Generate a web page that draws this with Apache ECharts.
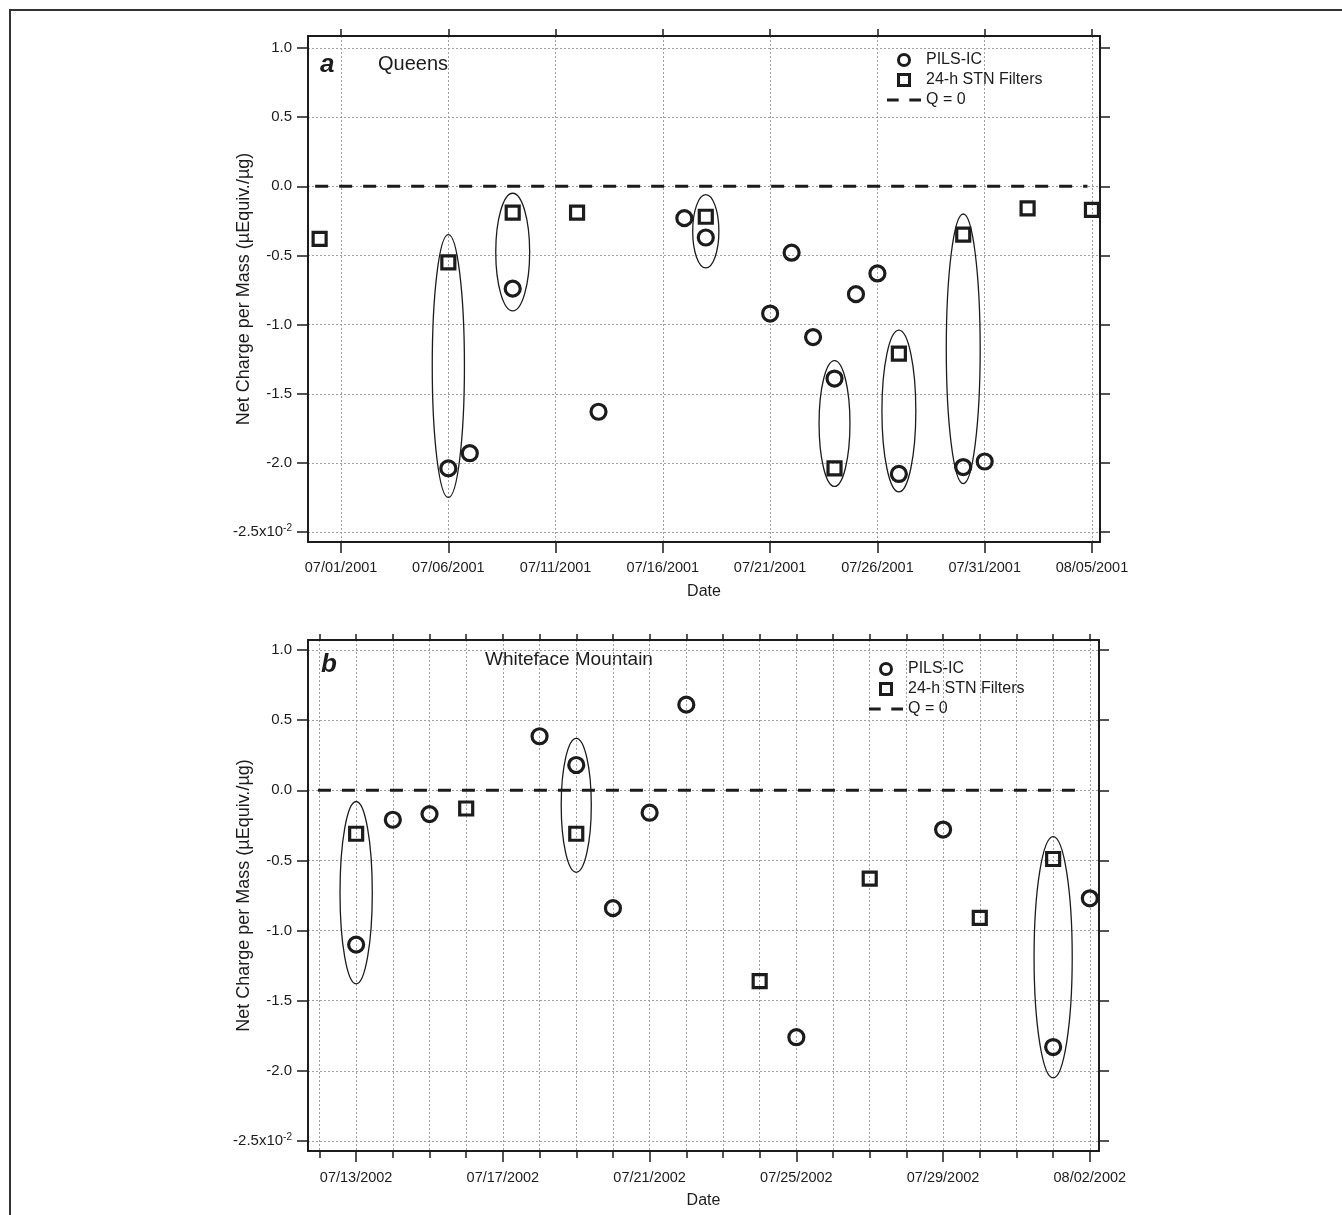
<!DOCTYPE html>
<html>
<head>
<meta charset="utf-8">
<title>Net Charge per Mass - Queens / Whiteface Mountain</title>
<script src="https://cdn.jsdelivr.net/npm/echarts@6/dist/echarts.min.js"></script>
<style>
  html, body { margin: 0; padding: 0; background: #fff; }
  #chart { width: 1342px; height: 1215px; }
</style>
</head>
<body>
<div id="chart"></div>
<script>
'use strict';

// ---- panel a : Queens, summer 2001 ----
var queensPilsDates = ['2001/07/06', '2001/07/07', '2001/07/09', '2001/07/13', '2001/07/17', '2001/07/18',
  '2001/07/21', '2001/07/22', '2001/07/23', '2001/07/24', '2001/07/25', '2001/07/26', '2001/07/27',
  '2001/07/30', '2001/07/31'];
var queensPilsValues = [-2.04, -1.93, -0.74, -1.63, -0.23, -0.37, -0.92, -0.48, -1.09, -1.39, -0.78, -0.63, -2.08,
  -2.03, -1.99];
var queensStnDates = ['2001/06/30', '2001/07/06', '2001/07/09', '2001/07/12', '2001/07/18', '2001/07/24',
  '2001/07/27', '2001/07/30', '2001/08/02', '2001/08/05'];
var queensStnValues = [-0.38, -0.55, -0.19, -0.19, -0.22, -2.04, -1.21, -0.35, -0.16, -0.17];
var queensZeroDates = ['2001/06/29 19:00', '2001/08/04 19:00'];
// ringed pairs: date, top, bottom, half width (days)
var queensRingDates = ['2001/07/06', '2001/07/09', '2001/07/18', '2001/07/24', '2001/07/27', '2001/07/30'];
var queensRingTops = [-0.35, -0.05, -0.06, -1.26, -1.04, -0.20];
var queensRingBottoms = [-2.25, -0.90, -0.59, -2.17, -2.21, -2.15];
var queensRingHalfDays = [0.75, 0.79, 0.61, 0.72, 0.79, 0.79];
var queensTicks = ['2001/07/01', '2001/07/06', '2001/07/11', '2001/07/16', '2001/07/21', '2001/07/26',
  '2001/07/31', '2001/08/05'];
var queensRange = ['2001/06/29 11:00', '2001/08/05 09:00'];

// ---- panel b : Whiteface Mountain, summer 2002 ----
var wfPilsDates = ['2002/07/13', '2002/07/14', '2002/07/15', '2002/07/18', '2002/07/19', '2002/07/20',
  '2002/07/21', '2002/07/22', '2002/07/25', '2002/07/29', '2002/08/01', '2002/08/02'];
var wfPilsValues = [-1.10, -0.21, -0.17, 0.385, 0.18, -0.84, -0.16, 0.61, -1.76, -0.28, -1.83, -0.77];
var wfStnDates = ['2002/07/13', '2002/07/16', '2002/07/19', '2002/07/24', '2002/07/27', '2002/07/30',
  '2002/08/01'];
var wfStnValues = [-0.31, -0.13, -0.31, -1.36, -0.63, -0.91, -0.49];
var wfZeroDates = ['2002/07/11 23:00', '2002/08/01 15:30'];
var wfRingDates = ['2002/07/13', '2002/07/19', '2002/08/01'];
var wfRingTops = [-0.08, 0.37, -0.33];
var wfRingBottoms = [-1.38, -0.585, -2.05];
var wfRingHalfDays = [0.44, 0.41, 0.52];
var wfLabelTicks = ['2002/07/13', '2002/07/17', '2002/07/21', '2002/07/25', '2002/07/29', '2002/08/02'];
var wfRange = ['2002/07/11 16:30', '2002/08/02 06:00'];

var yTicks = [-2.5, -2, -1.5, -1, -0.5, 0, 0.5, 1];

var DAY = 24 * 3600 * 1000;
var FONT = '"Liberation Sans", Arial, sans-serif';
var INK = '#1c1c1c';

function t(s) { return new Date(s).getTime(); }
function pairs(dates, vals) {
  var out = [];
  for (var i = 0; i < dates.length; i++) out.push([t(dates[i]), vals[i]]);
  return out;
}
function rings(dates, tops, bots, half) {
  var out = [];
  for (var i = 0; i < dates.length; i++) out.push([t(dates[i]), tops[i], bots[i], half[i]]);
  return out;
}

// daily ticks for panel b
var wfDayTicks = [];
for (var d = t('2002/07/12'); d <= t('2002/08/02'); d += DAY) wfDayTicks.push(d);

function dateLabel(v) {
  var dt = new Date(v);
  function p(n) { return (n < 10 ? '0' : '') + n; }
  return p(dt.getMonth() + 1) + '/' + p(dt.getDate()) + '/' + dt.getFullYear();
}
function yLabel(v) {
  if (Math.abs(v + 2.5) < 1e-6) return '{b|-2.5x10}{s|-2}';
  return '{b|' + v.toFixed(1) + '}';
}

var gridLine = { show: true, lineStyle: { color: '#a0a0a0', width: 1, type: [2, 2] } };
var axisLine = { show: true, onZero: false, lineStyle: { color: INK, width: 2 } };
var tickStyle = { color: INK, width: 1.5 };

function leftAxis(g, range) {
  return {
    type: 'value', gridIndex: g, position: 'left', min: range[0], max: range[1],
    name: 'Net Charge per Mass (\u00b5Equiv./\u00b5g)', nameLocation: 'middle', nameGap: 55,
    nameMoveOverlap: false,
    nameTextStyle: { fontFamily: FONT, fontSize: 18, color: INK },
    axisLine: axisLine,
    axisTick: { show: true, length: 11, customValues: yTicks, lineStyle: tickStyle },
    axisLabel: {
      customValues: yTicks, formatter: yLabel, margin: 16,
      rich: {
        b: { fontFamily: FONT, fontSize: 15, color: INK },
        s: { fontFamily: FONT, fontSize: 10, color: INK, verticalAlign: 'top', padding: [0, 0, 7, 0] }
      }
    },
    splitLine: gridLine
  };
}
function rightAxis(g, range) {
  return {
    type: 'value', gridIndex: g, position: 'right', min: range[0], max: range[1],
    axisLine: axisLine,
    axisTick: { show: true, length: 10, customValues: yTicks, lineStyle: tickStyle },
    axisLabel: { show: false },
    splitLine: { show: false }
  };
}
function dateAxis(g, pos, range, ticks, tickLen, opts) {
  var ax = {
    type: 'value', gridIndex: g, position: pos, min: range[0], max: range[1],
    axisLine: axisLine,
    axisTick: { show: true, length: tickLen, customValues: ticks, lineStyle: tickStyle },
    axisLabel: { show: false },
    splitLine: { show: false }
  };
  for (var k in opts) ax[k] = opts[k];
  return ax;
}

function ellipseItem(params, api) {
  var top = api.coord([api.value(0), api.value(1)]);
  var bot = api.coord([api.value(0), api.value(2)]);
  var side = api.coord([api.value(0) + api.value(3) * DAY, api.value(1)]);
  return {
    type: 'ellipse',
    shape: { cx: top[0], cy: (top[1] + bot[1]) / 2, rx: side[0] - top[0], ry: (bot[1] - top[1]) / 2 },
    style: { fill: 'none', stroke: INK, lineWidth: 1.3 }
  };
}

function panelSeries(xi, yi, pils, stn, zero, ringData) {
  return [
    {
      name: 'Q = 0', type: 'line', xAxisIndex: xi, yAxisIndex: yi, symbol: 'none', showSymbol: false,
      data: [[t(zero[0]), 0], [t(zero[1]), 0]], itemStyle: { color: INK },
      lineStyle: { color: INK, width: 3, type: [13, 11] }, z: 3
    },
    {
      name: 'ring' + xi, type: 'custom', xAxisIndex: xi, yAxisIndex: yi, renderItem: ellipseItem,
      data: ringData, encode: { x: 0, y: [1, 2] }, z: 4, silent: true
    },
    {
      name: 'PILS-IC', type: 'scatter', xAxisIndex: xi, yAxisIndex: yi, symbol: 'circle', symbolSize: 15,
      data: pils, itemStyle: { color: 'rgba(0,0,0,0)', borderColor: INK, borderWidth: 3.2, opacity: 1 }, z: 5
    },
    {
      name: '24-h STN Filters', type: 'scatter', xAxisIndex: xi, yAxisIndex: yi, symbol: 'rect', symbolSize: 13,
      data: stn, itemStyle: { color: 'rgba(0,0,0,0)', borderColor: INK, borderWidth: 3.2, opacity: 1 }, z: 5
    }
  ];
}

function legendAt(left, top) {
  return {
    left: left, top: top, orient: 'vertical', padding: 0, itemWidth: 34, itemHeight: 11, itemGap: 4,
    symbolKeepAspect: true,
    data: [
      { name: 'PILS-IC', icon: 'circle', itemStyle: { color: 'rgba(0,0,0,0)', borderColor: INK, borderWidth: 3 } },
      { name: '24-h STN Filters', icon: 'path://M0,0H10V10H0Z',
        itemStyle: { color: 'rgba(0,0,0,0)', borderColor: INK, borderWidth: 3 } },
      { name: 'Q = 0', icon: 'path://M0,0H11V3H0ZM21,0H32V3H21Z',
        itemStyle: { color: INK, borderWidth: 0 } }
    ],
    textStyle: { fontFamily: FONT, fontSize: 16, color: INK, lineHeight: 16 },
    selectedMode: false
  };
}

var chart = echarts.init(document.getElementById('chart'));
var qr = [t(queensRange[0]), t(queensRange[1])];
var wr = [t(wfRange[0]), t(wfRange[1])];
var qTicks = queensTicks.map(t);
var wTicks = wfLabelTicks.map(t);
var nameStyle = { fontFamily: FONT, fontSize: 16, color: INK };

var option = {
  backgroundColor: '#fff',
  animation: false,
  grid: [
    { left: 308, top: 36, width: 792, height: 506 },
    { left: 308, top: 640, width: 791, height: 511 }
  ],
  xAxis: [
    dateAxis(0, 'bottom', qr, qTicks, 11, {
      name: 'Date', nameLocation: 'middle', nameGap: 42, nameTextStyle: nameStyle,
      axisLabel: { customValues: qTicks, formatter: dateLabel, margin: 18,
        fontFamily: FONT, fontSize: 14.5, color: INK },
      splitLine: gridLine
    }),
    dateAxis(0, 'top', qr, qTicks, 7, {}),
    dateAxis(1, 'bottom', wr, wTicks, 11, {
      name: 'Date', nameLocation: 'middle', nameGap: 42, nameTextStyle: nameStyle,
      axisLabel: { customValues: wTicks, formatter: dateLabel, margin: 19,
        fontFamily: FONT, fontSize: 14.5, color: INK }
    }),
    dateAxis(1, 'bottom', wr, wfDayTicks, 7, { splitLine: gridLine }),
    dateAxis(1, 'top', wr, wfDayTicks, 6, {})
  ],
  yAxis: [
    leftAxis(0, [-2.572, 1.087]),
    rightAxis(0, [-2.572, 1.087]),
    leftAxis(1, [-2.571, 1.071]),
    rightAxis(1, [-2.571, 1.071])
  ],
  legend: [legendAt(887, 52), legendAt(869, 661)],
  series: [].concat(
    panelSeries(0, 0, pairs(queensPilsDates, queensPilsValues), pairs(queensStnDates, queensStnValues),
      queensZeroDates, rings(queensRingDates, queensRingTops, queensRingBottoms, queensRingHalfDays)),
    panelSeries(2, 2, pairs(wfPilsDates, wfPilsValues), pairs(wfStnDates, wfStnValues),
      wfZeroDates, rings(wfRingDates, wfRingTops, wfRingBottoms, wfRingHalfDays))
  ),
  graphic: [
    { type: 'rect', silent: true, shape: { x: 10, y: 10, width: 1400, height: 1300 },
      style: { fill: 'none', stroke: '#333', lineWidth: 2 } },
    { type: 'text', left: 320, top: 52, silent: true,
      style: { text: 'a', font: 'italic bold 26px ' + FONT, fill: INK } },
    { type: 'text', left: 378, top: 54, silent: true,
      style: { text: 'Queens', font: '20px ' + FONT, fill: INK } },
    { type: 'text', left: 321, top: 652, silent: true,
      style: { text: 'b', font: 'italic bold 26px ' + FONT, fill: INK } },
    { type: 'text', left: 485, top: 650, silent: true,
      style: { text: 'Whiteface Mountain', font: '19px ' + FONT, fill: INK } }
  ]
};

chart.setOption(option);
window.onresize = chart.resize;
</script>
</body>
</html>
